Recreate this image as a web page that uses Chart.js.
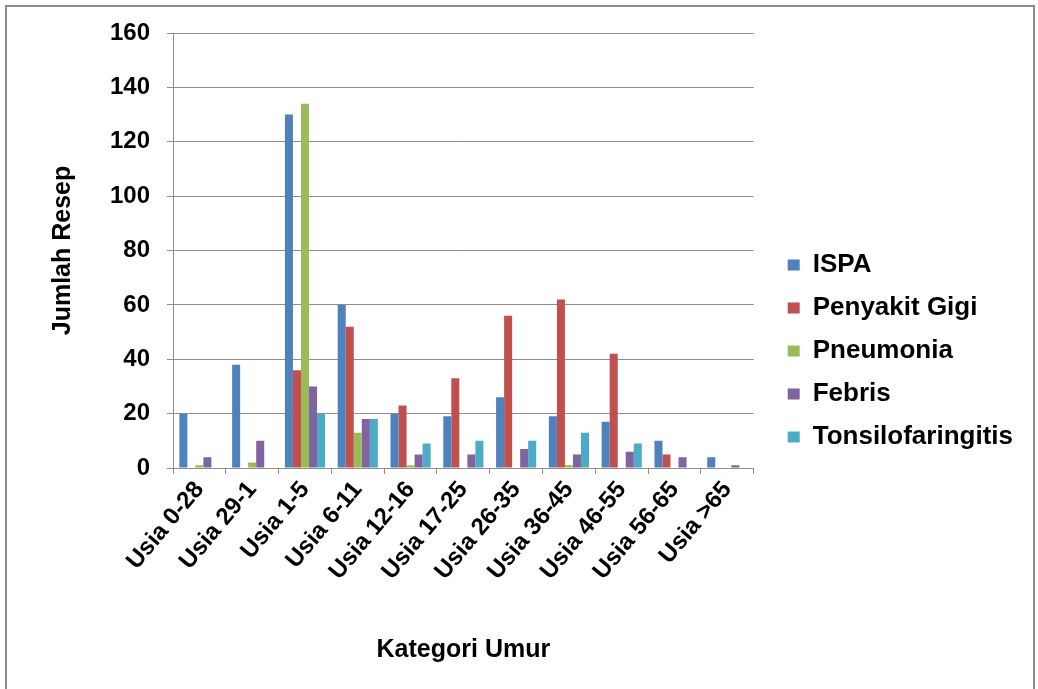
<!DOCTYPE html>
<html lang="id">
<head>
    <meta charset="UTF-8">
    <title>Jumlah Resep per Kategori Umur</title>
    <script src="https://cdn.jsdelivr.net/npm/chart.js"></script>
    <style>
        body {
            margin: 0;
            padding: 0;
            background: #fff;
            overflow: hidden;
        }
        #frame {
            position: absolute;
            left: 5px;
            top: 5px;
            width: 1026px;
            height: 700px;
            border: 2px solid #8a8a8a;
        }
        #wrap {
            position: absolute;
            left: 0;
            top: 0;
            width: 1038px;
            height: 689px;
        }
    </style>
</head>
<body>
    <div id="frame"></div>
    <div id="wrap"><canvas id="grafik"></canvas></div>

    <script>
const kategori = ['Usia 0-28', 'Usia 29-1', 'Usia 1-5', 'Usia 6-11', 'Usia 12-16', 'Usia 17-25',
                  'Usia 26-35', 'Usia 36-45', 'Usia 46-55', 'Usia 56-65', 'Usia >65'];

const ispa           = [20, 38, 130, 60, 20, 19, 26, 19, 17, 10, 4];
const penyakitGigi   = [0, 0, 36, 52, 23, 33, 56, 62, 42, 5, 0];
const pneumonia      = [1, 2, 134, 13, 1, 0, 0, 1, 0, 0, 0];
const febris         = [4, 10, 30, 18, 5, 5, 7, 5, 6, 4, 1];
const tonsilofaringitis = [0, 0, 20, 18, 9, 10, 10, 13, 9, 0, 0];

const yMin = 0, yMax = 160, yStep = 20;

const garis = '#8e8e8e';
const huruf = "'Liberation Sans', Arial, sans-serif";

function seri(label, data, warna) {
    return {
        label: label,
        data: data,
        backgroundColor: warna,
        borderWidth: 0,
        categoryPercentage: 0.76,
        barPercentage: 1.0
    };
}

const ctx = document.getElementById('grafik').getContext('2d');
new Chart(ctx, {
    type: 'bar',
    data: {
        labels: kategori,
        datasets: [
            seri('ISPA', ispa, '#4F81BD'),
            seri('Penyakit Gigi', penyakitGigi, '#C0504D'),
            seri('Pneumonia', pneumonia, '#9BBB59'),
            seri('Febris', febris, '#8064A2'),
            seri('Tonsilofaringitis', tonsilofaringitis, '#4BACC6')
        ]
    },
    options: {
        responsive: true,
        maintainAspectRatio: false,
        animation: false,
        layout: {
            padding: { left: 48, right: 15, top: 33, bottom: 20 }
        },
        plugins: {
            tooltip: { enabled: false },
            legend: {
                position: 'right',
                maxWidth: 320,
                labels: {
                    boxWidth: 12,
                    boxHeight: 11,
                    padding: 17,
                    color: '#000',
                    font: { family: huruf, size: 26, weight: 'bold' }
                }
            }
        },
        scales: {
            x: {
                afterFit: function (s) { s.height = 201; },
                grid: {
                    display: true,
                    drawOnChartArea: false,
                    drawTicks: true,
                    tickLength: 6,
                    color: garis
                },
                border: { color: garis, width: 1 },
                ticks: {
                    autoSkip: false,
                    maxRotation: 50,
                    minRotation: 50,
                    padding: 2,
                    color: '#000',
                    font: { family: huruf, size: 24, weight: 'bold' }
                },
                title: {
                    display: true,
                    text: 'Kategori Umur',
                    color: '#000',
                    padding: { top: 0, bottom: 4 },
                    font: { family: huruf, size: 25, weight: 'bold' }
                }
            },
            y: {
                min: yMin,
                max: yMax,
                afterFit: function (s) { s.width = 125; },
                grid: {
                    color: garis,
                    tickLength: 6
                },
                border: { color: garis, width: 1 },
                ticks: {
                    stepSize: yStep,
                    padding: 17,
                    color: '#000',
                    font: { family: huruf, size: 24, weight: 'bold' }
                },
                title: {
                    display: true,
                    text: 'Jumlah Resep',
                    color: '#000',
                    padding: { top: 0, bottom: 0 },
                    font: { family: huruf, size: 25, weight: 'bold' }
                }
            },
            celah: {
                type: 'linear',
                position: 'right',
                afterFit: function (s) { s.width = 17; },
                grid: { display: false },
                border: { display: false },
                ticks: { display: false }
            }
        }
    }
});
    </script>
</body>
</html>
